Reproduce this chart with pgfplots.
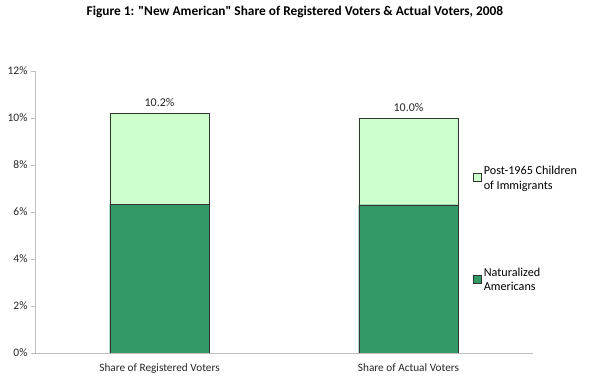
\documentclass[border=0pt]{standalone}
\usepackage{pgfplots}
\pgfplotsset{compat=1.18}
\usepackage{fontspec}
\setmainfont{Carlito}
\usetikzlibrary{calc}
\definecolor{darkg}{RGB}{51,153,102}
\definecolor{lightg}{RGB}{204,255,204}
\begin{document}
\begin{tikzpicture}
\begin{axis}[
  name=ax,
  scale only axis,
  width=498bp, height=282bp,
  ybar stacked,
  bar width=0.4,
  xmin=-0.5, xmax=1.5,
  ymin=0, ymax=12,
  ytick={0,2,4,6,8,10,12},
  yticklabel={\pgfmathprintnumber{\tick}\%},
  yticklabel style={/pgf/number format/assume math mode=true, font=\fontsize{11.5}{13}\selectfont, text=black!85},
  xtick={0,1},
  xticklabels={Share of Registered Voters, Share of Actual Voters},
  xticklabel style={font=\fontsize{11.3}{13}\selectfont, text=black!85, yshift=-3bp},
  x tick style={draw=none},
  extra x ticks={-0.5,0.5,1.5},
  extra x tick labels={},
  extra x tick style={tick style={draw=gray!50}, major tick length=4bp, tick align=outside},
  y tick style={draw=gray!50},
  major tick length=4bp,
  tick align=outside,
  axis x line*=bottom,
  axis y line*=left,
  axis line style={-, gray!50},
  reverse legend,
  legend style={
    at={(0.88,0.67)}, anchor=north west,
    draw=none, fill=none,
    font=\fontsize{12.2}{14.5}\selectfont,
    cells={align=left, anchor=west},
    row sep=73bp,
    inner sep=0pt,
  },
  legend image code/.code={\draw[#1] (0bp,-3bp) rectangle (8bp,5bp);},
  title={Figure 1: \textquotedbl New American\textquotedbl{} Share of Registered Voters \& Actual Voters, 2008},
  title style={at={(0.522,1)}, anchor=center, yshift=53bp, font=\bfseries\fontsize{13.4}{15}\selectfont},
]
\addplot[fill=darkg, draw=black!80] coordinates {(0,6.34) (1,6.31)};
\addlegendentry{Naturalized\\Americans}
\addplot[fill=lightg, draw=black!80] coordinates {(0,3.86) (1,3.69)};
\addlegendentry{Post-1965 Children\\of Immigrants}
\addplot[draw=none, fill=none, forget plot,
  point meta=explicit symbolic,
  nodes near coords,
  every node near coord/.style={font=\fontsize{12}{14}\selectfont, text=black!85, anchor=south, yshift=3bp}]
  coordinates {(0,0.0001) [10.2\%] (1,0.0001) [10.0\%]};
\end{axis}
\pgfresetboundingbox
\path[use as bounding box] ($(ax.south west)+(-35bp,-25bp)$) rectangle ($(ax.north east)+(57bp,71bp)$);
\end{tikzpicture}
\end{document}
